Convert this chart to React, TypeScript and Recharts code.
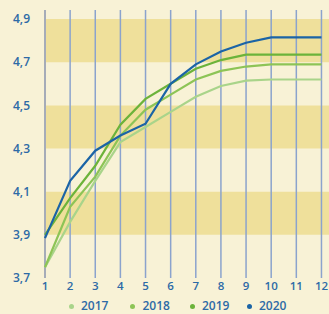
import React from 'react';
import { LineChart, Line, XAxis, YAxis, ReferenceArea, ReferenceLine, Legend } from 'recharts';

const months = [1, 2, 3, 4, 5, 6, 7, 8, 9, 10, 11, 12];
const s2017 = [3.75, 3.96, 4.15, 4.33, 4.40, 4.47, 4.54, 4.59, 4.615, 4.62, 4.62, 4.62];
const s2018 = [3.75, 4.03, 4.17, 4.36, 4.48, 4.55, 4.62, 4.66, 4.68, 4.69, 4.69, 4.69];
const s2019 = [3.90, 4.07, 4.22, 4.41, 4.53, 4.60, 4.67, 4.71, 4.735, 4.735, 4.735, 4.735];
const s2020 = [3.885, 4.15, 4.29, 4.36, 4.415, 4.60, 4.69, 4.75, 4.79, 4.815, 4.815, 4.815];
const yTicks = [3.7, 3.9, 4.1, 4.3, 4.5, 4.7, 4.9];
const bands = [[3.9, 4.1], [4.3, 4.5], [4.7, 4.9]];
const seriesNames = ['2017', '2018', '2019', '2020'];
const seriesColors = ['#a9d48a', '#8dc456', '#6cb33a', '#1b64a6'];

const data = months.map((m, i) => ({
  m,
  '2017': s2017[i],
  '2018': s2018[i],
  '2019': s2019[i],
  '2020': s2020[i],
}));

const FONT = '"Open Sans", sans-serif';
const BLUE = '#2d6aa6';

const LegendContent = () => (
  <div style={{ height: 16, position: 'relative', fontFamily: FONT, fontSize: 12, fontWeight: 600, color: BLUE }}>
    {seriesNames.map((n, i) => (
      <div key={n} style={{ position: 'absolute', left: [68.5, 130, 189.5, 246.5][i], top: 1, display: 'flex', alignItems: 'center', height: 14, lineHeight: '14px' }}>
        <span style={{ width: 5, height: 5, borderRadius: 3, background: seriesColors[i], display: 'inline-block', marginRight: 7.5 }} />
        <span>{n}</span>
      </div>
    ))}
  </div>
);

export default function App() {
  return (
    <div style={{ position: 'absolute', left: 0, top: 0, width: 329, height: 314, background: '#f8f2d6', overflow: 'hidden' }}>
      <LineChart width={329} height={314} data={data} margin={{ top: 10, right: 0, left: 0, bottom: 0 }}>
        {bands.map(([a, b]) => (
          <ReferenceArea key={a} x1={1} x2={12.3} y1={a} y2={b} fill="#efe09b" fillOpacity={1} stroke="none" ifOverflow="visible" />
        ))}
        {months.map((m) => (
          <ReferenceLine key={m} x={m} stroke={m === 1 ? '#a6acb8' : '#8ba3cd'} strokeWidth={m === 1 ? 2 : 1.5} />
        ))}
        <XAxis
          dataKey="m"
          type="number"
          domain={[1, 12.3]}
          ticks={months}
          interval={0}
          axisLine={false}
          tickLine={false}
          height={20}
          tickMargin={-2}
          tick={{ fill: BLUE, fontSize: 11.5, fontWeight: 600, fontFamily: FONT }}
        />
        <YAxis
          type="number"
          domain={[3.7, 4.942]}
          ticks={yTicks}
          interval={0}
          allowDataOverflow
          axisLine={false}
          tickLine={false}
          width={45}
          tickMargin={9}
          tickFormatter={(v: number) => v.toFixed(1).replace('.', ',')}
          tick={{ fill: BLUE, fontSize: 12, fontWeight: 600, fontFamily: FONT }}
        />
        {seriesNames.map((n, i) => (
          <Line key={n} type="linear" dataKey={n} stroke={seriesColors[i]} strokeWidth={2.2} dot={false} activeDot={false} isAnimationActive={false} />
        ))}
        <Legend verticalAlign="bottom" height={16} content={<LegendContent />} />
      </LineChart>
    </div>
  );
}
